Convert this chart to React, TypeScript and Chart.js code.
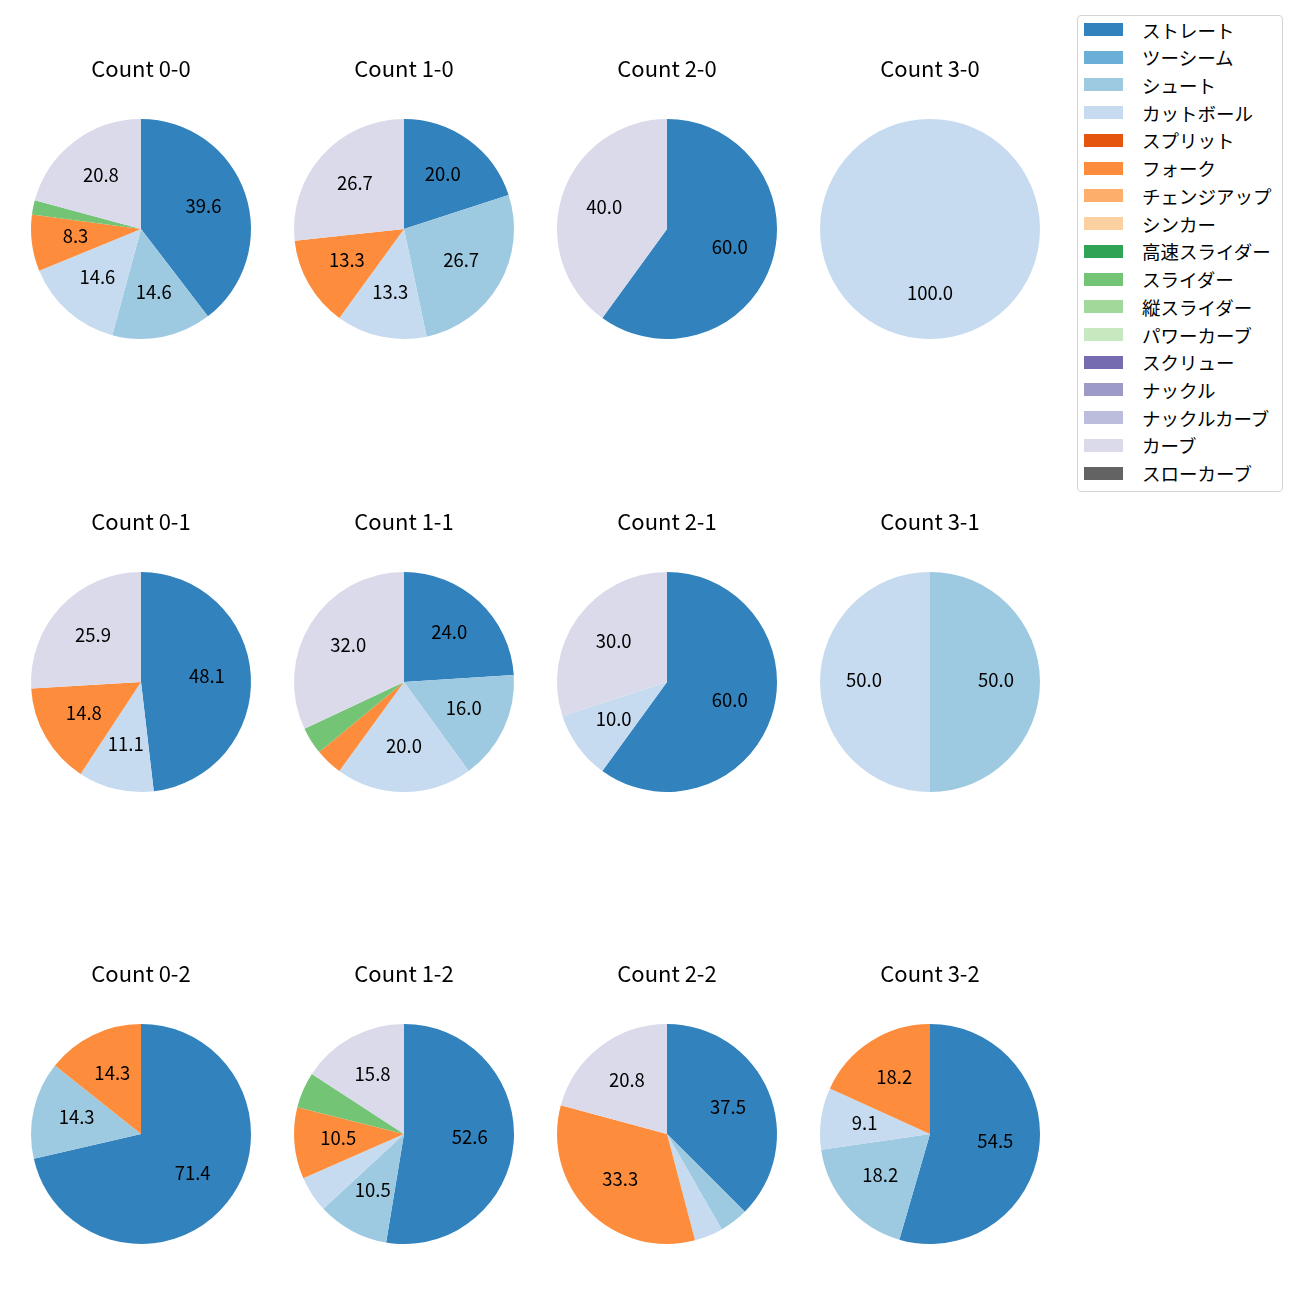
import React, { useEffect, useRef } from "react";
import { Chart, registerables } from "chart.js";

Chart.register(...registerables);

const FONT = '"Noto Sans CJK JP", "Noto Sans", sans-serif';

const pitchTypes = [
  "ストレート", "ツーシーム", "シュート", "カットボール", "スプリット", "フォーク",
  "チェンジアップ", "シンカー", "高速スライダー", "スライダー", "縦スライダー",
  "パワーカーブ", "スクリュー", "ナックル", "ナックルカーブ", "カーブ", "スローカーブ",
];

const pitchColors = [
  "#3182bd", "#6baed6", "#9ecae1", "#c6dbef", "#e6550d", "#fd8d3c",
  "#fdae6b", "#fdd0a2", "#31a354", "#74c476", "#a1d99b",
  "#c7e9c0", "#756bb1", "#9e9ac8", "#bcbddc", "#dadaeb", "#636363",
];

// percentages per count, in pitchTypes order
const count00 = [39.6, 0, 14.6, 14.6, 0, 8.3, 0, 0, 0, 2.1, 0, 0, 0, 0, 0, 20.8, 0];
const count10 = [20.0, 0, 26.7, 13.3, 0, 13.3, 0, 0, 0, 0, 0, 0, 0, 0, 0, 26.7, 0];
const count20 = [60.0, 0, 0, 0, 0, 0, 0, 0, 0, 0, 0, 0, 0, 0, 0, 40.0, 0];
const count30 = [0, 0, 0, 100.0, 0, 0, 0, 0, 0, 0, 0, 0, 0, 0, 0, 0, 0];
const count01 = [48.1, 0, 0, 11.1, 0, 14.8, 0, 0, 0, 0, 0, 0, 0, 0, 0, 25.9, 0];
const count11 = [24.0, 0, 16.0, 20.0, 0, 4.0, 0, 0, 0, 4.0, 0, 0, 0, 0, 0, 32.0, 0];
const count21 = [60.0, 0, 0, 10.0, 0, 0, 0, 0, 0, 0, 0, 0, 0, 0, 0, 30.0, 0];
const count31 = [0, 0, 50.0, 50.0, 0, 0, 0, 0, 0, 0, 0, 0, 0, 0, 0, 0, 0];
const count02 = [71.4, 0, 14.3, 0, 0, 14.3, 0, 0, 0, 0, 0, 0, 0, 0, 0, 0, 0];
const count12 = [52.6, 0, 10.5, 5.3, 0, 10.5, 0, 0, 0, 5.3, 0, 0, 0, 0, 0, 15.8, 0];
const count22 = [37.5, 0, 4.2, 4.2, 0, 33.3, 0, 0, 0, 0, 0, 0, 0, 0, 0, 20.8, 0];
const count32 = [54.5, 0, 18.2, 9.1, 0, 18.2, 0, 0, 0, 0, 0, 0, 0, 0, 0, 0, 0];

const countTitles = [
  ["Count 0-0", "Count 1-0", "Count 2-0", "Count 3-0"],
  ["Count 0-1", "Count 1-1", "Count 2-1", "Count 3-1"],
  ["Count 0-2", "Count 1-2", "Count 2-2", "Count 3-2"],
];
const countValues = [
  [count00, count10, count20, count30],
  [count01, count11, count21, count31],
  [count02, count12, count22, count32],
];

const LABEL_MIN_PCT = 6;

const colCenters = [141, 404, 667, 930];
const rowCenters = [229, 682, 1134];

const CW = 262;
const CH = 340;

const pctLabelPlugin = {
  id: "pctLabels",
  afterDatasetsDraw(chart: any) {
    const ctx = chart.ctx;
    const meta = chart.getDatasetMeta(0);
    const data: number[] = chart.data.datasets[0].data;
    const total = data.reduce((a, b) => a + b, 0);
    ctx.save();
    ctx.font = `18.5px ${FONT}`;
    ctx.fillStyle = "#000";
    ctx.textAlign = "center";
    ctx.textBaseline = "middle";
    meta.data.forEach((arc: any, i: number) => {
      const pct = (data[i] / total) * 100;
      if (pct < LABEL_MIN_PCT) return;
      const p = arc.getProps(["x", "y", "startAngle", "endAngle", "outerRadius"], true);
      const mid = (p.startAngle + p.endAngle) / 2;
      const r = p.outerRadius * 0.6;
      ctx.fillText(pct.toFixed(1), p.x + r * Math.cos(mid), p.y + r * Math.sin(mid) - 2);
    });
    ctx.restore();
  },
};

function PieChart({ title, values, cx, cy }: { title: string; values: number[]; cx: number; cy: number }) {
  const ref = useRef<HTMLCanvasElement | null>(null);
  useEffect(() => {
    if (!ref.current) return;
    const chart = new Chart(ref.current, {
      type: "pie",
      data: {
        labels: pitchTypes,
        datasets: [
          {
            data: values,
            backgroundColor: pitchColors,
            borderWidth: 0,
          },
        ],
      },
      options: {
        responsive: false,
        animation: false,
        devicePixelRatio: 1,
        layout: { padding: { left: 21, right: 21, top: 0, bottom: 20 } },
        plugins: {
          legend: { display: false },
          tooltip: { enabled: false },
          title: {
            display: true,
            text: title,
            color: "#000",
            font: { family: FONT, size: 22, weight: "normal", lineHeight: 1.2 },
            padding: { top: 36.8, bottom: 36.8 },
          },
        },
      },
      plugins: [pctLabelPlugin],
    });
    return () => chart.destroy();
  }, [title, values]);
  return (
    <canvas
      ref={ref}
      width={CW}
      height={CH}
      style={{ position: "absolute", left: cx - CW / 2, top: cy - 210, width: CW, height: CH }}
    />
  );
}

function Legend() {
  const boxLeft = 1077;
  const boxTop = 15;
  const top0 = 29.5;
  const step = 27.73;
  return (
    <div
      style={{
        position: "absolute",
        left: boxLeft,
        top: boxTop,
        width: 206,
        height: 477,
        boxSizing: "border-box",
        border: "1px solid #d5d5d5",
        borderRadius: 4,
        background: "rgba(255,255,255,0.8)",
      }}
    >
      {pitchTypes.map((name, i) => {
        const cy = top0 + i * step - (boxTop + 1);
        return (
          <div key={name}>
            <div
              style={{
                position: "absolute",
                left: 1084 - (boxLeft + 1),
                top: cy - 6.5,
                width: 39,
                height: 13,
                background: pitchColors[i],
              }}
            />
            <div
              style={{
                position: "absolute",
                left: 1142 - (boxLeft + 1),
                top: cy - 14,
                height: 28,
                lineHeight: "28px",
                fontFamily: FONT,
                fontSize: 18.5,
                color: "#000",
                whiteSpace: "nowrap",
              }}
            >
              {name}
            </div>
          </div>
        );
      })}
    </div>
  );
}

export default function App() {
  return (
    <div style={{ position: "absolute", left: 0, top: 0, width: 1300, height: 1300, background: "#fff" }}>
      {rowCenters.map((cy, r) =>
        colCenters.map((cx, c) => (
          <PieChart key={`${r}-${c}`} title={countTitles[r][c]} values={countValues[r][c]} cx={cx} cy={cy} />
        ))
      )}
      <Legend />
    </div>
  );
}
